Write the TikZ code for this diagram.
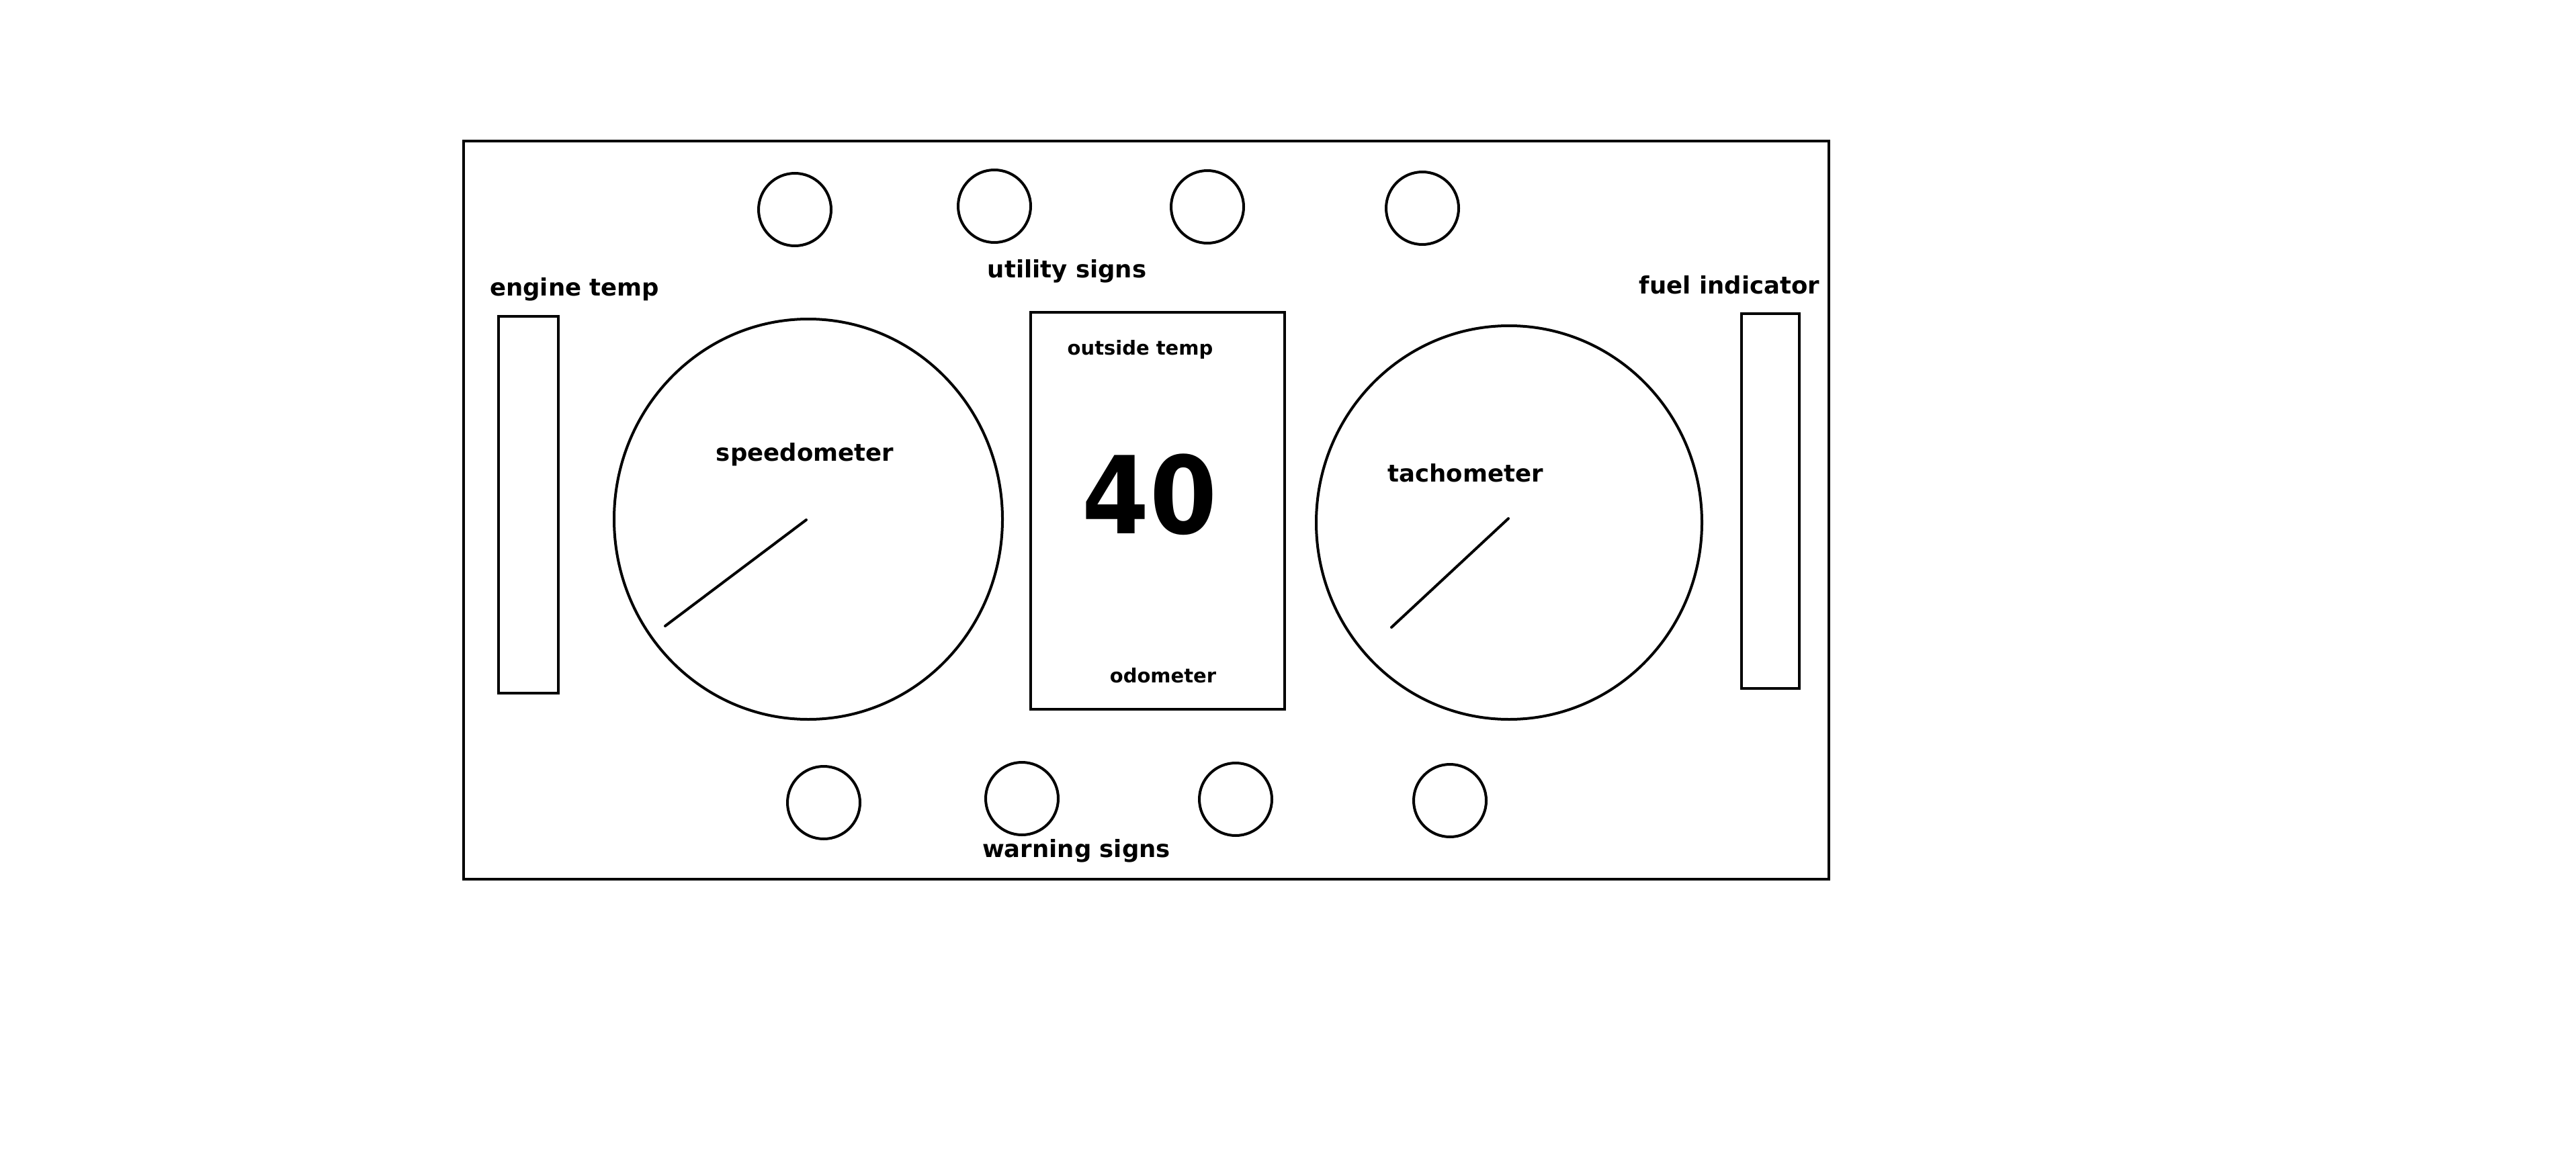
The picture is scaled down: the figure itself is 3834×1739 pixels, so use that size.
\documentclass[tikz,border=0pt]{standalone}
\usepackage{fontspec}
\setmainfont{DejaVu Sans}
\begin{document}
\begin{tikzpicture}[x=1pt,y=-1pt,
  outl/.style={draw=black,line width=4pt},
  frame/.style={draw=black,line width=4.5pt},
  lbl/.style={inner sep=0pt,anchor=base,font=\fontsize{35.5}{40}\selectfont\bfseries},
  small/.style={inner sep=0pt,anchor=base,font=\fontsize{29}{34}\selectfont\bfseries},
  big/.style={inner sep=0pt,anchor=base,font=\fontsize{160}{170}\selectfont\bfseries},
  needle/.style={draw=black,line width=4pt,line cap=round}]
\useasboundingbox (0,0) rectangle (3834,1739);
\fill[white] (0,0) rectangle (3834,1739);
% outer frame
\draw[frame] (690,210) rectangle (2722,1309);
% side bars
\draw[outl] (742,471) rectangle (831,1032);
\draw[outl] (2592,467) rectangle (2678,1025);
% centre box
\draw[outl] (1534,465) rectangle (1912,1056);
% utility signs
\draw[outl] (1183,312) ellipse [x radius=54,y radius=54];
\draw[outl] (1480,307) ellipse [x radius=54,y radius=54];
\draw[outl] (1797,308) ellipse [x radius=54,y radius=54];
\draw[outl] (2117,310) ellipse [x radius=54,y radius=54];
% warning signs
\draw[outl] (1226,1195) ellipse [x radius=54,y radius=54];
\draw[outl] (1521,1189) ellipse [x radius=54,y radius=54];
\draw[outl] (1839,1190) ellipse [x radius=54,y radius=54];
\draw[outl] (2158,1192) ellipse [x radius=54,y radius=54];
% gauges
\draw[outl] (1203,773) ellipse [x radius=289,y radius=298];
\draw[outl] (2246,778) ellipse [x radius=287,y radius=293];
\coordinate (sp1) at (1200,774);
\coordinate (sp2) at (990,932);
\coordinate (ta1) at (2245,772);
\coordinate (ta2) at (2071,934);
\draw[needle] (sp1) -- (sp2);
\draw[needle] (ta1) -- (ta2);
% labels
\node[lbl,anchor=base west] (et) at (729,440) {engine temp};
\node[lbl] (us) at (1588,413) {utility signs};
\node[lbl] (sp) at (1198,686) {speedometer};
\node[small] (ot) at (1697,528) {outside temp};
\node[big] (num) at (1711,794) {\scalebox{0.9}[1]{40}};
\node[small] (od) at (1731,1016) {odometer};
\node[lbl] (ta) at (2181,717) {tachometer};
\node[lbl] (fi) at (2574,437) {fuel indicator};
\node[lbl] (ws) at (1602,1276) {warning signs};
\end{tikzpicture}
\end{document}
